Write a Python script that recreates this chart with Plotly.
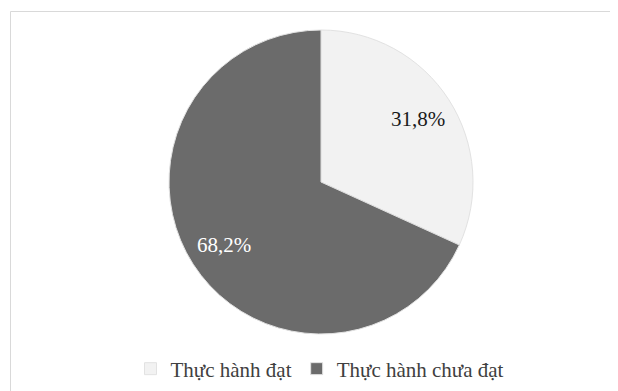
import math
import plotly.graph_objects as go

labels = ["Thực hành đạt", "Thực hành chưa đạt"]
values = [31.8, 68.2]
colors = ["#f2f2f2", "#6b6b6b"]
text_colors = ["#1a1a1a", "#ffffff"]

# page body has an 8px margin, so the figure is drawn 8px smaller and shifted
OFF = 8
W, H = 618 - OFF, 391 - OFF
cx, cy, r = 321 - OFF, 182 - OFF, 152
FONT = "Liberation Serif, Times New Roman, serif"

texts = [f"{v:.1f}".replace(".", ",") + "%" for v in values]

fig = go.Figure(go.Pie(
    labels=labels,
    values=values,
    sort=False,
    direction="clockwise",
    rotation=0,
    marker=dict(colors=colors, line=dict(color="#e2e2e2", width=1)),
    textinfo="none",
    domain=dict(x=[(cx - r) / W, (cx + r) / W], y=[(H - cy - r) / H, (H - cy + r) / H]),
    hoverinfo="label+percent",
))

# slice labels placed at the mid-angle of each slice
total = sum(values)
annotations = []
cum = 0.0
k = 0.76
for v, t, c in zip(values, texts, text_colors):
    mid = (cum + v / 2) / total
    cum += v
    th = 2 * math.pi * mid
    px = cx + k * r * math.sin(th)
    py = cy - k * r * math.cos(th)
    annotations.append(dict(
        x=px / W, y=1 - py / H, xref="paper", yref="paper",
        text=t, showarrow=False, xanchor="center", yanchor="middle",
        font=dict(family=FONT, size=21, color=c),
    ))

fig.update_layout(
    width=W, height=H,
    margin=dict(l=0, r=0, t=0, b=0),
    paper_bgcolor="#ffffff",
    showlegend=True,
    annotations=annotations,
    legend=dict(
        orientation="h",
        x=(320 - OFF) / W, xanchor="center",
        y=(H - (369 - OFF)) / H, yanchor="middle",
        font=dict(family=FONT, size=21, color="#404040"),
        traceorder="normal",
    ),
    shapes=[dict(
        type="rect", xref="paper", yref="paper",
        x0=(10.5 - OFF) / W, x1=1.05, y0=-0.05, y1=1 - (11.5 - OFF) / H,
        line=dict(color="#d9d9d9", width=1),
        fillcolor="rgba(0,0,0,0)",
        layer="below",
    )],
)

fig.write_html("out.html")
